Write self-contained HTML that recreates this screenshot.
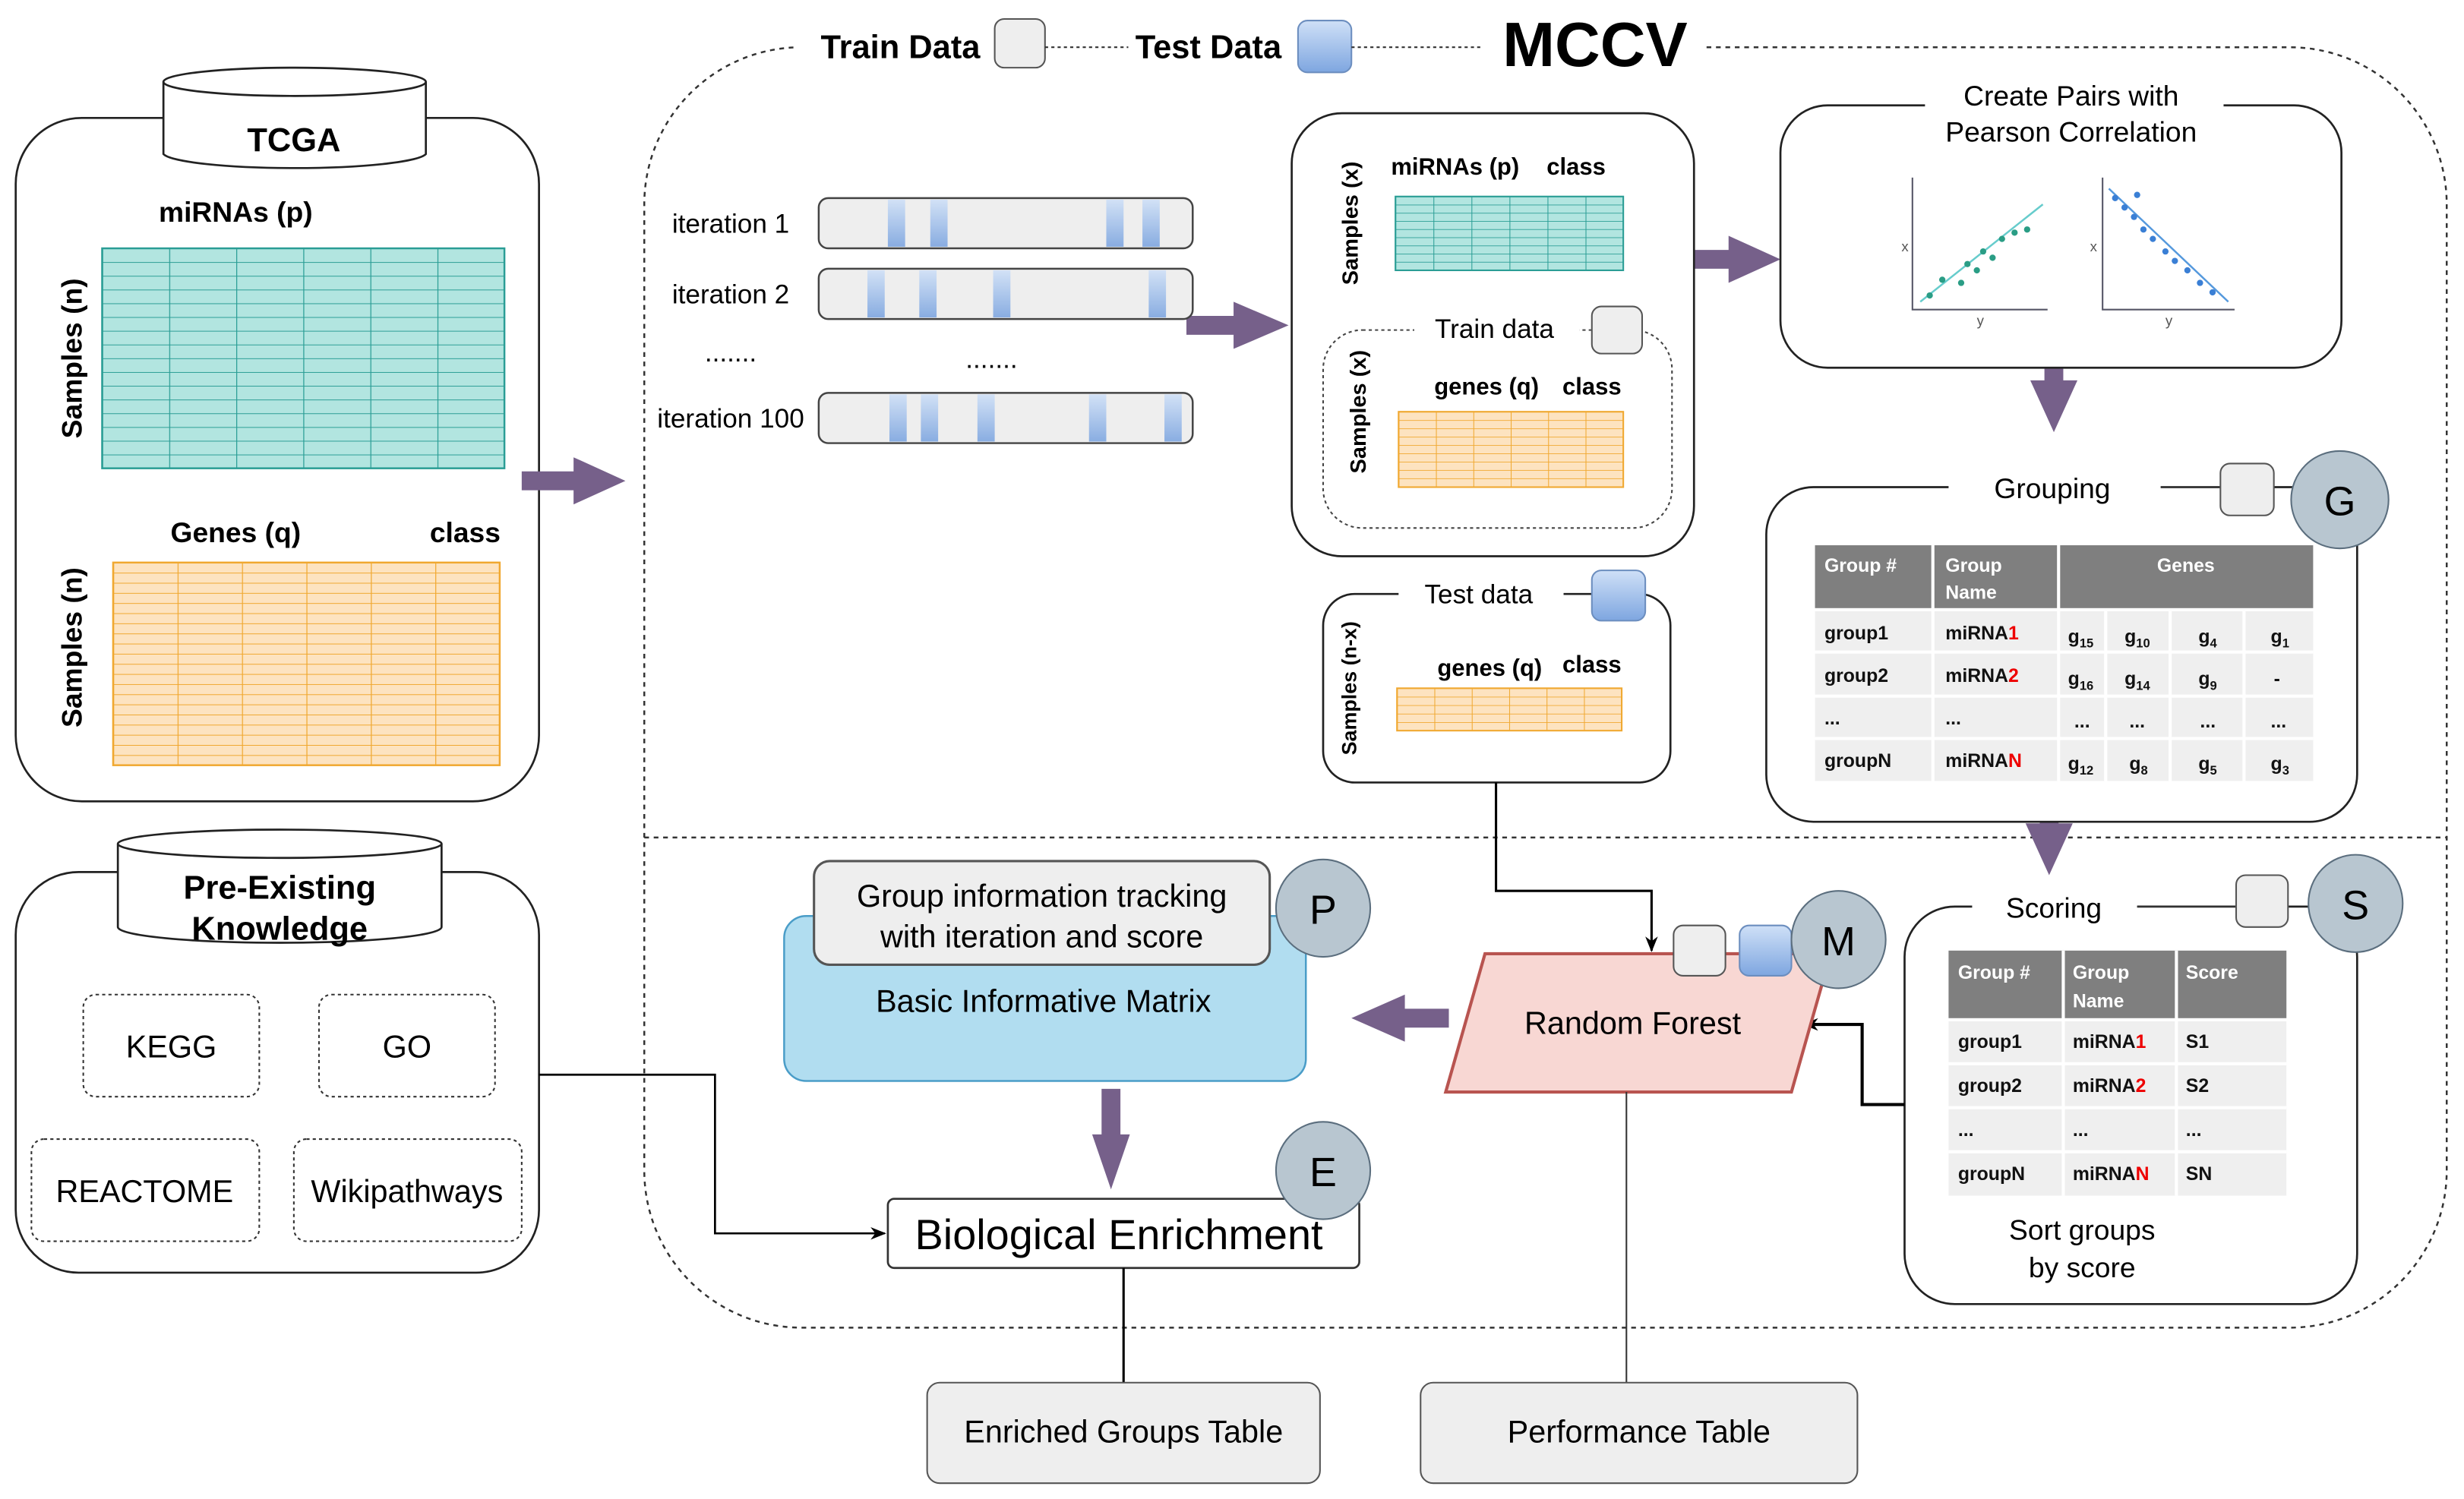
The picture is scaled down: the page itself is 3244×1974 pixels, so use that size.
<!DOCTYPE html>
<html><head><meta charset="utf-8"><style>html,body{margin:0;padding:0;background:#fff}svg{display:block}text{font-family:"Liberation Sans",Arial,sans-serif}</style></head>
<body>
<svg width="3244" height="1974" viewBox="0 0 1568 954" xmlns="http://www.w3.org/2000/svg">
<defs>
<pattern id="th" patternUnits="userSpaceOnUse" x="0" y="158" width="10" height="8.75"><line x1="0" y1="0" x2="10" y2="0" stroke="#2a9d95" stroke-width="1"/></pattern>
<pattern id="tv" patternUnits="userSpaceOnUse" x="65" y="0" width="42.67" height="10"><line x1="0" y1="0" x2="0" y2="10" stroke="#2a9d95" stroke-width="1.2"/></pattern>
<pattern id="oh" patternUnits="userSpaceOnUse" x="0" y="358" width="10" height="6.45"><line x1="0" y1="0" x2="10" y2="0" stroke="#f0a830" stroke-width="1"/></pattern>
<pattern id="ov" patternUnits="userSpaceOnUse" x="72" y="0" width="41" height="10"><line x1="0" y1="0" x2="0" y2="10" stroke="#f0a830" stroke-width="1.2"/></pattern>
<pattern id="th2" patternUnits="userSpaceOnUse" x="0" y="125" width="10" height="5.2"><line x1="0" y1="0" x2="10" y2="0" stroke="#2a9d95" stroke-width="0.8"/></pattern>
<pattern id="tv2" patternUnits="userSpaceOnUse" x="888" y="0" width="24.2" height="10"><line x1="0" y1="0" x2="0" y2="10" stroke="#2a9d95" stroke-width="1"/></pattern>
<pattern id="oh2" patternUnits="userSpaceOnUse" x="0" y="262" width="10" height="5.3"><line x1="0" y1="0" x2="10" y2="0" stroke="#f0a830" stroke-width="0.8"/></pattern>
<pattern id="ov2" patternUnits="userSpaceOnUse" x="890" y="0" width="23.8" height="10"><line x1="0" y1="0" x2="0" y2="10" stroke="#f0a830" stroke-width="1"/></pattern>
<pattern id="oh3" patternUnits="userSpaceOnUse" x="0" y="438" width="10" height="5.4"><line x1="0" y1="0" x2="10" y2="0" stroke="#f0a830" stroke-width="0.8"/></pattern>
<pattern id="ov3" patternUnits="userSpaceOnUse" x="889" y="0" width="23.8" height="10"><line x1="0" y1="0" x2="0" y2="10" stroke="#f0a830" stroke-width="1"/></pattern>
<linearGradient id="bl" x1="0" y1="0" x2="0" y2="1"><stop offset="0" stop-color="#cfe0f7"/><stop offset="1" stop-color="#7ea6e0"/></linearGradient>
<marker id="ah" markerWidth="10" markerHeight="10" refX="9" refY="5" orient="auto" markerUnits="userSpaceOnUse"><path d="M0,1 L10,5 L0,9 L3,5z" fill="#000"/></marker>
</defs>

<rect x="410" y="30" width="1147" height="815" rx="100" fill="none" stroke="#333" stroke-width="1.2" stroke-dasharray="3,3"/>
<line x1="410" y1="533" x2="1557" y2="533" stroke="#333" stroke-width="1.2" stroke-dasharray="3,3"/>
<rect x="505" y="5" width="580" height="45" fill="#fff"/>
<text x="573" y="37" font-size="21" font-weight="bold" text-anchor="middle">Train Data</text>
<rect x="633" y="12" width="32" height="31" rx="6" fill="#eee" stroke="#555"/>
<line x1="665" y1="30" x2="718" y2="30" stroke="#333" stroke-dasharray="2,2"/>
<text x="769" y="37" font-size="21" font-weight="bold" text-anchor="middle">Test Data</text>
<rect x="826" y="13" width="34" height="33" rx="6" fill="url(#bl)" stroke="#6c8ebf"/>
<line x1="860" y1="30" x2="942" y2="30" stroke="#333" stroke-dasharray="2,2"/>
<text x="1015" y="42" font-size="40" font-weight="bold" text-anchor="middle">MCCV</text>

<rect x="10" y="75" width="333" height="435" rx="42" fill="#fff" stroke="#222" stroke-width="1.3"/>
<path d="M104,52 L104,98 A84,10 0 0 0 271,98 L271,52" fill="#fff" stroke="#222" stroke-width="1.3"/>
<ellipse cx="187.5" cy="52" rx="83.5" ry="9" fill="#fff" stroke="#222" stroke-width="1.3"/>
<text x="187" y="96" font-size="21" font-weight="bold" text-anchor="middle">TCGA</text>
<text x="150" y="141" font-size="18" font-weight="bold" text-anchor="middle">miRNAs (p)</text>
<rect x="65" y="158" width="256" height="140" fill="#b2e5e0"/>
<rect x="65" y="158" width="256" height="140" fill="url(#th)"/>
<rect x="65" y="158" width="256" height="140" fill="url(#tv)" stroke="#2a9d95" stroke-width="1.2"/>
<text transform="translate(52,228) rotate(-90)" font-size="18" font-weight="bold" text-anchor="middle">Samples (n)</text>
<text x="150" y="345" font-size="18" font-weight="bold" text-anchor="middle">Genes (q)</text>
<text x="296" y="345" font-size="18" font-weight="bold" text-anchor="middle">class</text>
<rect x="72" y="358" width="246" height="129" fill="#fde3c0"/>
<rect x="72" y="358" width="246" height="129" fill="url(#oh)"/>
<rect x="72" y="358" width="246" height="129" fill="url(#ov)" stroke="#f0a830" stroke-width="1.2"/>
<text transform="translate(52,412) rotate(-90)" font-size="18" font-weight="bold" text-anchor="middle">Samples (n)</text>

<g fill="#76608a">
<path d="M332,300 L365,300 L365,291 L398,306 L365,321 L365,312 L332,312z"/>
<path d="M755,201 L785,201 L785,192 L820,207 L785,222 L785,213 L755,213z"/>
<path d="M1072,159 L1100,159 L1100,150 L1133,165 L1100,180 L1100,171 L1072,171z"/>
<path d="M1301,215 L1313,215 L1313,242 L1322,242 L1307,275 L1292,242 L1301,242z"/>
<path d="M1298,497 L1310,497 L1310,524 L1319,524 L1304,557 L1289,524 L1298,524z"/>
<path d="M922,642 L894,642 L894,633 L860,648 L894,663 L894,654 L922,654z"/>
<path d="M701,693 L713,693 L713,722 L719,722 L707,757 L695,722 L701,722z"/>
</g>

<rect x="10" y="555" width="333" height="255" rx="40" fill="#fff" stroke="#222" stroke-width="1.3"/>
<path d="M75,537 L75,590 A103,10 0 0 0 281,590 L281,537" fill="#fff" stroke="#222" stroke-width="1.3"/>
<ellipse cx="178" cy="537" rx="103" ry="9" fill="#fff" stroke="#222" stroke-width="1.3"/>
<text x="178" y="572" font-size="21" font-weight="bold" text-anchor="middle">Pre-Existing</text>
<text x="178" y="598" font-size="21" font-weight="bold" text-anchor="middle">Knowledge</text>
<g fill="#fff" stroke="#333" stroke-dasharray="2,2">
<rect x="53" y="633" width="112" height="65" rx="8"/>
<rect x="203" y="633" width="112" height="65" rx="8"/>
<rect x="20" y="725" width="145" height="65" rx="8"/>
<rect x="187" y="725" width="145" height="65" rx="8"/>
</g>
<g font-size="20" text-anchor="middle">
<text x="109" y="673">KEGG</text><text x="259" y="673">GO</text>
<text x="92" y="765">REACTOME</text><text x="259" y="765">Wikipathways</text>
</g>
<path d="M343,684 L455,684 L455,785 L563,785" fill="none" stroke="#000" stroke-width="1.3" marker-end="url(#ah)"/>

<g font-size="17" text-anchor="middle">
<text x="465" y="148">iteration 1</text>
<text x="465" y="193">iteration 2</text>
<text x="465" y="230">.......</text>
<text x="631" y="234">.......</text>
<text x="465" y="272">iteration 100</text>
</g>
<g fill="#eee" stroke="#444" stroke-width="1.2">
<rect x="521" y="126" width="238" height="32" rx="6"/>
<rect x="521" y="171" width="238" height="32" rx="6"/>
<rect x="521" y="250" width="238" height="32" rx="6"/>
</g>
<g fill="url(#bl)" opacity="0.9">
<rect x="565" y="127" width="11" height="30"/><rect x="592" y="127" width="11" height="30"/><rect x="704" y="127" width="11" height="30"/><rect x="727" y="127" width="11" height="30"/>
<rect x="552" y="172" width="11" height="30"/><rect x="585" y="172" width="11" height="30"/><rect x="632" y="172" width="11" height="30"/><rect x="731" y="172" width="11" height="30"/>
<rect x="566" y="251" width="11" height="30"/><rect x="586" y="251" width="11" height="30"/><rect x="622" y="251" width="11" height="30"/><rect x="693" y="251" width="11" height="30"/><rect x="741" y="251" width="11" height="30"/>
</g>

<rect x="822" y="72" width="256" height="282" rx="32" fill="#fff" stroke="#222" stroke-width="1.3"/>
<text transform="translate(864,142) rotate(-90)" font-size="14" font-weight="bold" text-anchor="middle">Samples (x)</text>
<text x="926" y="111" font-size="15" font-weight="bold" text-anchor="middle">miRNAs (p)</text>
<text x="1003" y="111" font-size="15" font-weight="bold" text-anchor="middle">class</text>
<rect x="888" y="125" width="145" height="47" fill="#b2e5e0"/>
<rect x="888" y="125" width="145" height="47" fill="url(#th2)"/>
<rect x="888" y="125" width="145" height="47" fill="url(#tv2)" stroke="#2a9d95"/>
<rect x="842" y="210" width="222" height="126" rx="25" fill="none" stroke="#444" stroke-dasharray="2,2"/>
<rect x="900" y="198" width="105" height="22" fill="#fff"/>
<text x="951" y="215" font-size="17" text-anchor="middle">Train data</text>
<rect x="1013" y="195" width="32" height="30" rx="6" fill="#eee" stroke="#555"/>
<text transform="translate(869,262) rotate(-90)" font-size="14" font-weight="bold" text-anchor="middle">Samples (x)</text>
<text x="946" y="251" font-size="15" font-weight="bold" text-anchor="middle">genes (q)</text>
<text x="1013" y="251" font-size="15" font-weight="bold" text-anchor="middle">class</text>
<rect x="890" y="262" width="143" height="48" fill="#fde3c0"/>
<rect x="890" y="262" width="143" height="48" fill="url(#oh2)"/>
<rect x="890" y="262" width="143" height="48" fill="url(#ov2)" stroke="#f0a830"/>

<rect x="842" y="378" width="221" height="120" rx="20" fill="#fff" stroke="#222" stroke-width="1.3"/>
<rect x="890" y="366" width="105" height="22" fill="#fff"/>
<text x="941" y="384" font-size="17" text-anchor="middle">Test data</text>
<rect x="1013" y="363" width="34" height="32" rx="6" fill="url(#bl)" stroke="#6c8ebf"/>
<text transform="translate(863,438) rotate(-90)" font-size="13" font-weight="bold" text-anchor="middle">Samples (n-x)</text>
<text x="948" y="430" font-size="15" font-weight="bold" text-anchor="middle">genes (q)</text>
<text x="1013" y="428" font-size="15" font-weight="bold" text-anchor="middle">class</text>
<rect x="889" y="438" width="143" height="27" fill="#fde3c0"/>
<rect x="889" y="438" width="143" height="27" fill="url(#oh3)"/>
<rect x="889" y="438" width="143" height="27" fill="url(#ov3)" stroke="#f0a830"/>

<rect x="1133" y="67" width="357" height="167" rx="30" fill="#fff" stroke="#222" stroke-width="1.3"/>
<rect x="1225" y="48" width="190" height="50" fill="#fff"/>
<text x="1318" y="67" font-size="18" text-anchor="middle">Create Pairs with</text>
<text x="1318" y="90" font-size="18" text-anchor="middle">Pearson Correlation</text>
<g stroke="#556" stroke-width="1" fill="none">
<path d="M1217,113 L1217,197 L1303,197"/><path d="M1338,113 L1338,197 L1422,197"/>
</g>
<line x1="1222" y1="192" x2="1300" y2="130" stroke="#6cc" stroke-width="1.2"/>
<line x1="1342" y1="120" x2="1418" y2="192" stroke="#59d" stroke-width="1.2"/>
<g fill="#2a9d85">
<circle cx="1228" cy="188" r="2"/><circle cx="1236" cy="178" r="2"/><circle cx="1248" cy="180" r="2"/><circle cx="1252" cy="168" r="2"/><circle cx="1262" cy="160" r="2"/><circle cx="1268" cy="164" r="2"/><circle cx="1274" cy="152" r="2"/><circle cx="1282" cy="148" r="2"/><circle cx="1290" cy="146" r="2"/><circle cx="1258" cy="172" r="2"/>
</g>
<g fill="#3a7fd5">
<circle cx="1346" cy="126" r="2"/><circle cx="1352" cy="132" r="2"/><circle cx="1358" cy="138" r="2"/><circle cx="1364" cy="146" r="2"/><circle cx="1370" cy="152" r="2"/><circle cx="1378" cy="160" r="2"/><circle cx="1384" cy="166" r="2"/><circle cx="1392" cy="172" r="2"/><circle cx="1400" cy="180" r="2"/><circle cx="1408" cy="186" r="2"/><circle cx="1360" cy="124" r="2"/>
</g>
<text x="1210" y="160" font-size="9" fill="#555">x</text><text x="1258" y="207" font-size="9" fill="#555">y</text>
<text x="1330" y="160" font-size="9" fill="#555">x</text><text x="1378" y="207" font-size="9" fill="#555">y</text>

<rect x="1124" y="310" width="376" height="213" rx="30" fill="#fff" stroke="#222" stroke-width="1.3"/>
<rect x="1240" y="298" width="135" height="24" fill="#fff"/>
<text x="1306" y="317" font-size="18" text-anchor="middle">Grouping</text>
<line x1="1375" y1="310" x2="1413" y2="310" stroke="#333"/>
<rect x="1413" y="295" width="34" height="33" rx="6" fill="#eee" stroke="#555"/>
<ellipse cx="1489" cy="318" rx="31" ry="31" fill="#b8c6d0" stroke="#5b6e7e"/>
<text x="1489" y="328" font-size="26" text-anchor="middle">G</text>
<rect x="1155" y="347" width="317" height="40" fill="#7f7f7f"/>
<rect x="1155" y="389" width="317" height="108" fill="#efefef"/>
<g stroke="#fff" stroke-width="2"><line x1="1230" y1="347" x2="1230" y2="497"/><line x1="1310" y1="347" x2="1310" y2="497"/><line x1="1340" y1="389" x2="1340" y2="497"/><line x1="1381" y1="389" x2="1381" y2="497"/><line x1="1428" y1="389" x2="1428" y2="497"/><line x1="1155" y1="415" x2="1472" y2="415"/><line x1="1155" y1="443" x2="1472" y2="443"/><line x1="1155" y1="470" x2="1472" y2="470"/></g>
<g font-size="12" font-weight="bold" fill="#fff"><text x="1161" y="364">Group #</text><text x="1238" y="364">Group</text><text x="1238" y="381">Name</text><text x="1391" y="364" text-anchor="middle">Genes</text></g>
<g font-size="12" font-weight="bold" fill="#111">
<text x="1161" y="407">group1</text><text x="1238" y="407">miRNA<tspan fill="#e00">1</tspan></text>
<text x="1161" y="434">group2</text><text x="1238" y="434">miRNA<tspan fill="#e00">2</tspan></text>
<text x="1161" y="461">...</text><text x="1238" y="461">...</text>
<text x="1161" y="488">groupN</text><text x="1238" y="488">miRNA<tspan fill="#e00">N</tspan></text>
<text x="1316" y="409">g<tspan font-size="8" dy="3">15</tspan></text><text x="1352" y="409">g<tspan font-size="8" dy="3">10</tspan></text><text x="1399" y="409">g<tspan font-size="8" dy="3">4</tspan></text><text x="1445" y="409">g<tspan font-size="8" dy="3">1</tspan></text>
<text x="1316" y="436">g<tspan font-size="8" dy="3">16</tspan></text><text x="1352" y="436">g<tspan font-size="8" dy="3">14</tspan></text><text x="1399" y="436">g<tspan font-size="8" dy="3">9</tspan></text><text x="1447" y="436">-</text>
<text x="1320" y="463">...</text><text x="1355" y="463">...</text><text x="1400" y="463">...</text><text x="1445" y="463">...</text>
<text x="1316" y="490">g<tspan font-size="8" dy="3">12</tspan></text><text x="1355" y="490">g<tspan font-size="8" dy="3">8</tspan></text><text x="1399" y="490">g<tspan font-size="8" dy="3">5</tspan></text><text x="1445" y="490">g<tspan font-size="8" dy="3">3</tspan></text>
</g>

<rect x="1212" y="577" width="288" height="253" rx="32" fill="#fff" stroke="#222" stroke-width="1.3"/>
<rect x="1255" y="565" width="105" height="24" fill="#fff"/>
<text x="1307" y="584" font-size="18" text-anchor="middle">Scoring</text>
<line x1="1360" y1="577" x2="1423" y2="577" stroke="#333"/>
<rect x="1423" y="557" width="33" height="33" rx="6" fill="#eee" stroke="#555"/>
<ellipse cx="1499" cy="575" rx="30" ry="31" fill="#b8c6d0" stroke="#5b6e7e"/>
<text x="1499" y="585" font-size="26" text-anchor="middle">S</text>
<rect x="1240" y="605" width="215" height="43" fill="#7f7f7f"/>
<rect x="1240" y="650" width="215" height="111" fill="#efefef"/>
<g stroke="#fff" stroke-width="2"><line x1="1313" y1="605" x2="1313" y2="761"/><line x1="1385" y1="605" x2="1385" y2="761"/><line x1="1240" y1="677" x2="1455" y2="677"/><line x1="1240" y1="705" x2="1455" y2="705"/><line x1="1240" y1="733" x2="1455" y2="733"/></g>
<g font-size="12" font-weight="bold" fill="#fff"><text x="1246" y="623">Group #</text><text x="1319" y="623">Group</text><text x="1319" y="641">Name</text><text x="1391" y="623">Score</text></g>
<g font-size="12" font-weight="bold" fill="#111">
<text x="1246" y="667">group1</text><text x="1319" y="667">miRNA<tspan fill="#e00">1</tspan></text><text x="1391" y="667">S1</text>
<text x="1246" y="695">group2</text><text x="1319" y="695">miRNA<tspan fill="#e00">2</tspan></text><text x="1391" y="695">S2</text>
<text x="1246" y="723">...</text><text x="1319" y="723">...</text><text x="1391" y="723">...</text>
<text x="1246" y="751">groupN</text><text x="1319" y="751">miRNA<tspan fill="#e00">N</tspan></text><text x="1391" y="751">SN</text>
</g>
<text x="1325" y="789" font-size="18" text-anchor="middle">Sort groups</text>
<text x="1325" y="813" font-size="18" text-anchor="middle">by score</text>
<path d="M1212,703 L1185,703 L1185,652 L1148,652" fill="none" stroke="#000" stroke-width="2" marker-end="url(#ah)"/>

<path d="M952,498 L952,567 L1051,567 L1051,605" fill="none" stroke="#000" stroke-width="1.5" marker-end="url(#ah)"/>
<path d="M945,607 L1165,607 L1140,695 L920,695z" fill="#f8d7d3" stroke="#b85450" stroke-width="2"/>
<text x="1039" y="658" font-size="20" text-anchor="middle">Random Forest</text>
<rect x="1065" y="589" width="33" height="32" rx="6" fill="#eee" stroke="#555"/>
<rect x="1107" y="589" width="33" height="32" rx="6" fill="url(#bl)" stroke="#6c8ebf"/>
<ellipse cx="1170" cy="598" rx="30" ry="31" fill="#b8c6d0" stroke="#5b6e7e"/>
<text x="1170" y="608" font-size="26" text-anchor="middle">M</text>

<rect x="499" y="583" width="332" height="105" rx="14" fill="#b1ddf0" stroke="#4a9dc8" stroke-width="1.2"/>
<text x="664" y="644" font-size="20" text-anchor="middle">Basic Informative Matrix</text>
<rect x="518" y="548" width="290" height="66" rx="10" fill="#eeeeee" stroke="#555" stroke-width="1.5"/>
<text x="663" y="577" font-size="20" text-anchor="middle">Group information tracking</text>
<text x="663" y="603" font-size="20" text-anchor="middle">with iteration and score</text>
<ellipse cx="842" cy="578" rx="30" ry="31" fill="#b8c6d0" stroke="#5b6e7e"/>
<text x="842" y="588" font-size="26" text-anchor="middle">P</text>

<rect x="565" y="763" width="300" height="44" rx="4" fill="#fff" stroke="#333" stroke-width="1.3"/>
<text x="712" y="795" font-size="27" text-anchor="middle">Biological Enrichment</text>
<ellipse cx="842" cy="745" rx="30" ry="31" fill="#b8c6d0" stroke="#5b6e7e"/>
<text x="842" y="755" font-size="26" text-anchor="middle">E</text>

<line x1="715" y1="807" x2="715" y2="880" stroke="#000" stroke-width="1.5"/>
<line x1="1035" y1="695" x2="1035" y2="880" stroke="#333" stroke-width="1"/>
<rect x="590" y="880" width="250" height="64" rx="8" fill="#eeeeee" stroke="#555"/>
<text x="715" y="918" font-size="20" text-anchor="middle">Enriched Groups Table</text>
<rect x="904" y="880" width="278" height="64" rx="8" fill="#eeeeee" stroke="#555"/>
<text x="1043" y="918" font-size="20" text-anchor="middle">Performance Table</text>
</svg>
</body></html>
